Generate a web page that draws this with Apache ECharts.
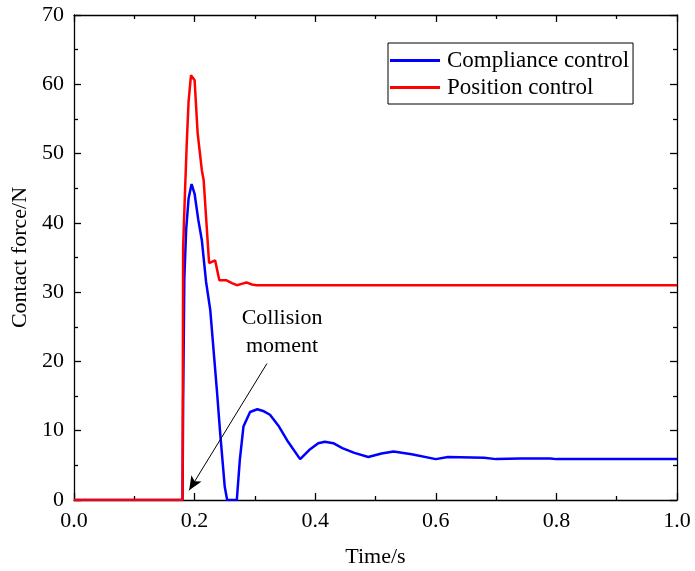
<!DOCTYPE html>
<html>
<head>
<meta charset="utf-8">
<script src="https://cdn.jsdelivr.net/npm/echarts@6/dist/echarts.min.js"></script>
<style>
  html, body { margin: 0; padding: 0; background: #fff; }
  #chart { width: 695px; height: 571px; }
</style>
</head>
<body>
<div id="chart"></div>
<script>
// compliance control (blue)
const compTime = [0, 0.18, 0.181, 0.183, 0.186, 0.19, 0.195, 0.2, 0.206, 0.212, 0.219, 0.226, 0.231, 0.237, 0.242, 0.25, 0.254, 0.27, 0.275, 0.281, 0.292, 0.304, 0.315, 0.325, 0.34, 0.355, 0.375, 0.39, 0.405, 0.416, 0.43, 0.445, 0.465, 0.488, 0.51, 0.53, 0.56, 0.6, 0.62, 0.68, 0.7, 0.74, 0.79, 0.8, 1.0];
const compForce = [0, 0, 14, 32, 39, 43.5, 45.6, 44.2, 40.5, 37.5, 31.5, 27.4, 22.1, 15.8, 10.1, 1.9, 0, 0, 5.8, 10.6, 12.7, 13.1, 12.8, 12.3, 10.6, 8.4, 5.9, 7.2, 8.2, 8.4, 8.2, 7.5, 6.8, 6.2, 6.7, 7.0, 6.6, 5.9, 6.2, 6.1, 5.9, 6.0, 6.0, 5.9, 5.9];
// position control (red)
const posTime = [0, 0.18, 0.181, 0.184, 0.187, 0.19, 0.194, 0.2, 0.205, 0.212, 0.215, 0.224, 0.234, 0.241, 0.253, 0.262, 0.27, 0.278, 0.286, 0.295, 0.303, 1.0];
const posForce = [0, 0, 36.5, 44.3, 51.5, 57.5, 61.3, 60.6, 53, 47.6, 46.2, 34.2, 34.6, 31.7, 31.7, 31.3, 31.0, 31.2, 31.4, 31.1, 31.0, 31.0];

const seriesNames = ['Compliance control', 'Position control'];
const xTicks = { min: 0, max: 1, interval: 0.2 };
const yTicks = { min: 0, max: 70, interval: 10 };
const annotationText = 'Collision\nmoment';
const arrowFrom = [0.32, 19.7];
const arrowTo = [0.191, 1.4];

const font = '"Liberation Serif", "Times New Roman", serif';
const chart = echarts.init(document.getElementById('chart'));

function zip(xs, ys) {
  return xs.map((x, i) => [x, ys[i]]);
}

// box axis with inward ticks; extra settings per side
function makeAxis(ticks, extra) {
  return Object.assign({
    type: 'value',
    gridIndex: 0,
    min: ticks.min,
    max: ticks.max,
    interval: ticks.interval,
    axisLine: { show: true, onZero: false, lineStyle: { color: '#000', width: 1.3 } },
    axisTick: { show: true, inside: true, length: 7, lineStyle: { color: '#000', width: 1.3 } },
    minorTick: { show: true, splitNumber: 2, length: 4, lineStyle: { color: '#000', width: 1.3 } },
    splitLine: { show: false },
    axisLabel: { show: false },
  }, extra);
}

const labelStyle = { fontFamily: font, fontSize: 22, color: '#000' };

chart.setOption({
  animation: false,
  backgroundColor: '#fff',
  textStyle: { fontFamily: font },
  grid: { left: 74, right: 18, top: 15, bottom: 71, containLabel: false, outerBoundsMode: 'none' },
  legend: {
    data: seriesNames,
    orient: 'vertical',
    left: 388,
    top: 43,
    padding: [6, 4, 5, 2],
    itemGap: 4,
    itemWidth: 50,
    itemHeight: 3,
    borderColor: '#000',
    borderWidth: 1,
    backgroundColor: '#fff',
    icon: 'rect',
    textStyle: { fontFamily: font, fontSize: 23, color: '#000', padding: [0, 0, 0, 2] },
  },
  xAxis: [
    makeAxis(xTicks, {
      position: 'bottom',
      name: 'Time/s',
      nameLocation: 'middle',
      nameGap: 46,
      nameTextStyle: labelStyle,
      axisLabel: Object.assign({ show: true, margin: 10, formatter: v => v.toFixed(1) }, labelStyle),
    }),
    makeAxis(xTicks, { position: 'top' }),
  ],
  yAxis: [
    makeAxis(yTicks, {
      position: 'left',
      name: 'Contact force/N',
      nameLocation: 'middle',
      nameGap: 38,
      nameTextStyle: labelStyle,
      axisLabel: Object.assign({ show: true, margin: 10 }, labelStyle),
    }),
    makeAxis(yTicks, { position: 'right' }),
  ],
  series: [
    {
      name: seriesNames[0],
      type: 'line',
      showSymbol: false,
      symbol: 'none',
      color: '#0000ff',
      lineStyle: { width: 2.5, color: '#0000ff' },
      data: zip(compTime, compForce),
      markLine: {
        silent: true,
        symbol: ['none', 'arrow'],
        symbolSize: [9, 14],
        label: { show: false },
        lineStyle: { color: '#000', width: 1, type: 'solid' },
        data: [[{ coord: arrowFrom }, { coord: arrowTo }]],
      },
    },
    {
      name: seriesNames[1],
      type: 'line',
      showSymbol: false,
      symbol: 'none',
      color: '#ff0000',
      lineStyle: { width: 2.5, color: '#ff0000' },
      data: zip(posTime, posForce),
    },
  ],
});

// annotation text positioned via the axes
const textPos = chart.convertToPixel({ xAxisIndex: 0, yAxisIndex: 0 }, [0.345, 24.2]);
chart.setOption({
  graphic: [{
    type: 'text',
    x: textPos[0],
    y: textPos[1],
    style: {
      text: annotationText,
      fontFamily: font,
      fontSize: 22,
      fill: '#000',
      align: 'center',
      verticalAlign: 'middle',
      lineHeight: 28,
    },
  }],
});
</script>
</body>
</html>
